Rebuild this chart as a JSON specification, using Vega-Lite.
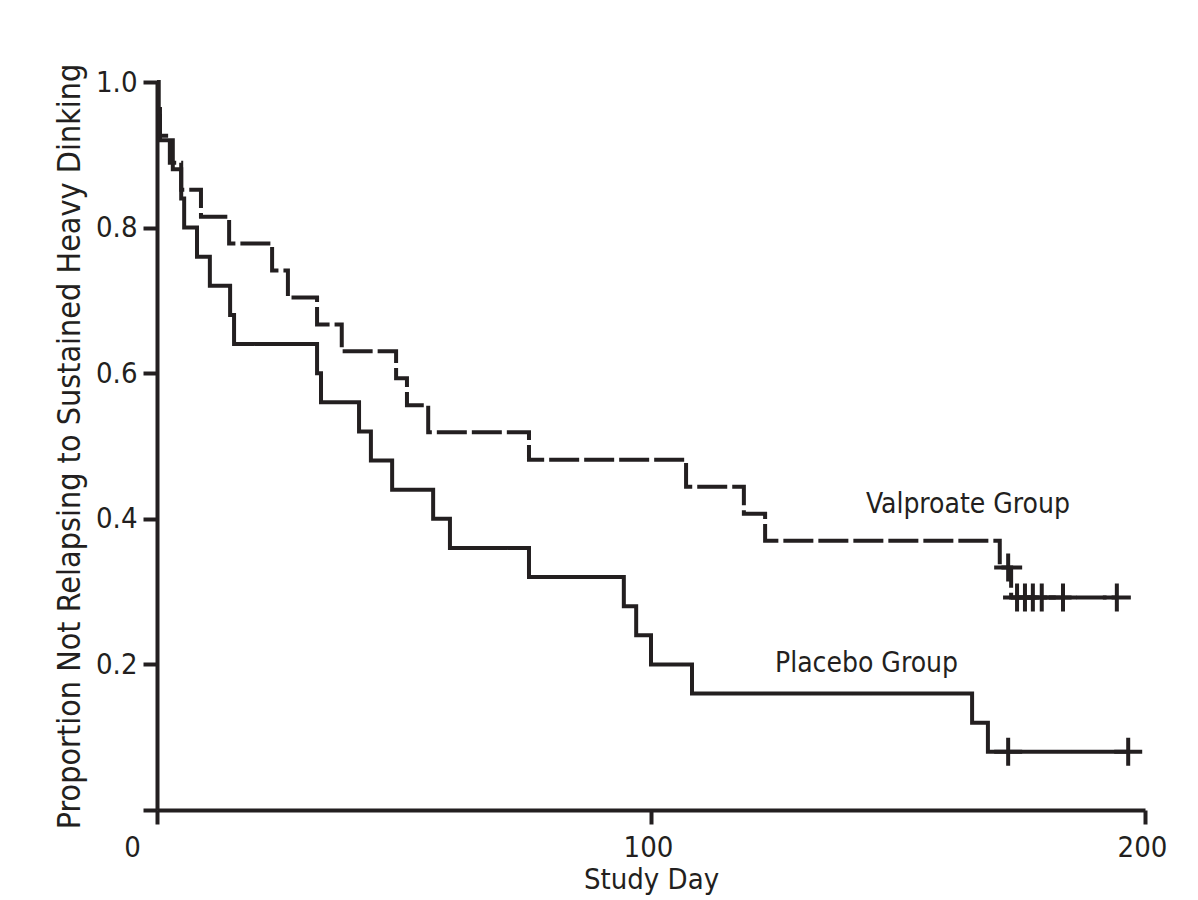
{
  "$schema": "https://vega.github.io/schema/vega-lite/v6.json",
  "width": 988,
  "height": 728,
  "autosize": "none",
  "padding": {"left": 157, "top": 82, "right": 53, "bottom": 90},
  "background": "white",
  "config": {
    "view": {"stroke": null},
    "font": "Liberation Sans Narrow, DejaVu Sans Condensed, Arial Narrow, sans-serif"
  },
  "datasets": {
    "curves": [
      {"group": "Placebo", "day": 0, "proportion": 1.0},
      {"group": "Placebo", "day": 0.3, "proportion": 0.96},
      {"group": "Placebo", "day": 0.6, "proportion": 0.92},
      {"group": "Placebo", "day": 3.2, "proportion": 0.88},
      {"group": "Placebo", "day": 4.9, "proportion": 0.84},
      {"group": "Placebo", "day": 5.5, "proportion": 0.80},
      {"group": "Placebo", "day": 8.1, "proportion": 0.76},
      {"group": "Placebo", "day": 10.7, "proportion": 0.72},
      {"group": "Placebo", "day": 14.8, "proportion": 0.68},
      {"group": "Placebo", "day": 15.6, "proportion": 0.64},
      {"group": "Placebo", "day": 32.4, "proportion": 0.60},
      {"group": "Placebo", "day": 33.2, "proportion": 0.56},
      {"group": "Placebo", "day": 40.9, "proportion": 0.52},
      {"group": "Placebo", "day": 43.3, "proportion": 0.48},
      {"group": "Placebo", "day": 47.6, "proportion": 0.44},
      {"group": "Placebo", "day": 55.9, "proportion": 0.40},
      {"group": "Placebo", "day": 59.3, "proportion": 0.36},
      {"group": "Placebo", "day": 75.3, "proportion": 0.32},
      {"group": "Placebo", "day": 94.5, "proportion": 0.28},
      {"group": "Placebo", "day": 97.0, "proportion": 0.24},
      {"group": "Placebo", "day": 100.0, "proportion": 0.20},
      {"group": "Placebo", "day": 108.3, "proportion": 0.16},
      {"group": "Placebo", "day": 165.0, "proportion": 0.12},
      {"group": "Placebo", "day": 168.2, "proportion": 0.08},
      {"group": "Placebo", "day": 196.6, "proportion": 0.08},
      {"group": "Valproate", "day": 0, "proportion": 1.0},
      {"group": "Valproate", "day": 0.3, "proportion": 0.963},
      {"group": "Valproate", "day": 0.6, "proportion": 0.926},
      {"group": "Valproate", "day": 2.6, "proportion": 0.889},
      {"group": "Valproate", "day": 4.9, "proportion": 0.852},
      {"group": "Valproate", "day": 8.9, "proportion": 0.815},
      {"group": "Valproate", "day": 14.6, "proportion": 0.778},
      {"group": "Valproate", "day": 23.3, "proportion": 0.741},
      {"group": "Valproate", "day": 26.5, "proportion": 0.704},
      {"group": "Valproate", "day": 32.4, "proportion": 0.667},
      {"group": "Valproate", "day": 37.4, "proportion": 0.630},
      {"group": "Valproate", "day": 48.4, "proportion": 0.593},
      {"group": "Valproate", "day": 50.6, "proportion": 0.556},
      {"group": "Valproate", "day": 54.9, "proportion": 0.519},
      {"group": "Valproate", "day": 75.3, "proportion": 0.481},
      {"group": "Valproate", "day": 107.1, "proportion": 0.444},
      {"group": "Valproate", "day": 118.8, "proportion": 0.407},
      {"group": "Valproate", "day": 123.1, "proportion": 0.370},
      {"group": "Valproate", "day": 170.6, "proportion": 0.333},
      {"group": "Valproate", "day": 172.9, "proportion": 0.292},
      {"group": "Valproate", "day": 194.3, "proportion": 0.292}
    ],
    "censors": [
      {"group": "Placebo", "day": 172.3, "proportion": 0.08},
      {"group": "Placebo", "day": 196.6, "proportion": 0.08},
      {"group": "Valproate", "day": 172.3, "proportion": 0.333},
      {"group": "Valproate", "day": 174.1, "proportion": 0.292},
      {"group": "Valproate", "day": 175.7, "proportion": 0.292},
      {"group": "Valproate", "day": 177.3, "proportion": 0.292},
      {"group": "Valproate", "day": 179.1, "proportion": 0.292},
      {"group": "Valproate", "day": 183.4, "proportion": 0.292},
      {"group": "Valproate", "day": 194.3, "proportion": 0.292}
    ],
    "labels": [
      {"label": "Valproate Group", "day": 143.5, "proportion": 0.419},
      {"label": "Placebo Group", "day": 125.1, "proportion": 0.2}
    ]
  },
  "layer": [
    {
      "data": {"name": "curves"},
      "mark": {"type": "line", "interpolate": "step-after", "strokeWidth": 4, "color": "#231f20", "clip": false},
      "encoding": {
        "x": {
          "field": "day", "type": "quantitative",
          "scale": {"domain": [0, 200], "nice": false, "zero": false},
          "axis": {
            "values": [0, 100, 200],
            "title": "Study Day",
            "grid": false,
            "tickSize": 14, "tickWidth": 4, "tickColor": "#231f20",
            "domainWidth": 4, "domainColor": "#231f20",
            "labelFontSize": 29, "labelColor": "#231f20", "labelPadding": 9,
            "labelFlush": false, "labelOverlap": false,
            "labelOffset": {"condition": {"test": "datum.value == 0", "value": -25}, "value": -3},
            "titleFontSize": 29, "titleFontWeight": "normal", "titleColor": "#231f20", "titlePadding": 3
          }
        },
        "y": {
          "field": "proportion", "type": "quantitative",
          "scale": {"domain": [0, 1], "nice": false},
          "axis": {
            "values": [0, 0.2, 0.4, 0.6, 0.8, 1.0],
            "labelExpr": "datum.value == 0 ? '' : format(datum.value, '.1f')",
            "title": "Proportion Not Relapsing to Sustained Heavy Dinking",
            "grid": false,
            "tickSize": 14, "tickWidth": 4, "tickColor": "#231f20",
            "domainWidth": 4, "domainColor": "#231f20",
            "labelFontSize": 29, "labelColor": "#231f20", "labelPadding": 6,
            "labelFlush": false, "labelOverlap": false,
            "titleFontSize": 32, "titleFontWeight": "normal", "titleColor": "#231f20", "titlePadding": 9
          }
        },
        "strokeDash": {
          "field": "group", "type": "nominal",
          "scale": {"domain": ["Placebo", "Valproate"], "range": [[1, 0], [30, 5]]},
          "legend": null
        }
      }
    },
    {
      "data": {"name": "censors"},
      "mark": {"type": "point", "shape": "M-1,0H1M0,-1V1", "size": 784, "filled": false, "strokeWidth": 4, "color": "#231f20", "opacity": 1, "clip": false},
      "encoding": {
        "x": {"field": "day", "type": "quantitative"},
        "y": {"field": "proportion", "type": "quantitative"}
      }
    },
    {
      "data": {"name": "labels"},
      "mark": {"type": "text", "align": "left", "baseline": "middle", "fontSize": 28, "color": "#231f20"},
      "encoding": {
        "x": {"field": "day", "type": "quantitative"},
        "y": {"field": "proportion", "type": "quantitative"},
        "text": {"field": "label"}
      }
    }
  ]
}
